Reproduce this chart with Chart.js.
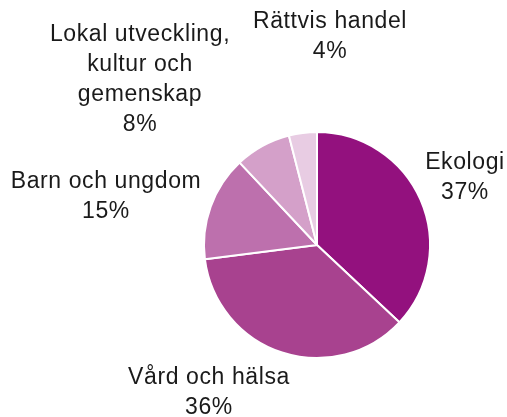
<!DOCTYPE html>
<html>
<head>
<meta charset="utf-8">
<script src="https://cdn.jsdelivr.net/npm/chart.js@4"></script>
<style>
  html, body { margin: 0; padding: 0; background: #fff; }
  #wrap { width: 507px; height: 417px; }
</style>
</head>
<body>
<div id="wrap"><canvas id="pieChart" width="507" height="417"></canvas></div>
<script>
  // data
  const categories = ['Ekologi', 'Vård och hälsa', 'Barn och ungdom', ['Lokal utveckling,', 'kultur och', 'gemenskap'], 'Rättvis handel'];
  const shares = [37, 36, 15, 8, 4];
  const colors = ['#93117E', '#A8428F', '#BD70AD', '#D4A0C9', '#E8CCE3'];

  // label placement relative to pie centre (px)
  const labelOffsets = [[148, -67], [-108, 148], [-211, -48], [-177, -165], [13, -208]];

  const outsideLabels = {
    id: 'outsideLabels',
    afterDatasetsDraw(chart) {
      const ctx = chart.ctx;
      const meta = chart.getDatasetMeta(0);
      const total = shares.reduce((a, b) => a + b, 0);
      ctx.save();
      ctx.font = '23px "Liberation Sans", Arial, sans-serif';
      ctx.letterSpacing = '0.6px';
      ctx.fillStyle = '#1a1a1a';
      ctx.textAlign = 'center';
      ctx.textBaseline = 'middle';
      const lh = 30;
      meta.data.forEach((arc, i) => {
        const name = categories[i];
        const lines = (Array.isArray(name) ? name.slice() : [name]);
        lines.push(Math.round(shares[i] / total * 100) + '%');
        const cx = arc.x + labelOffsets[i][0];
        const cy = arc.y + labelOffsets[i][1];
        const top = cy - (lines.length - 1) * lh / 2;
        lines.forEach((t, j) => ctx.fillText(t, cx, top + j * lh));
      });
      ctx.restore();
    }
  };

  new Chart(document.getElementById('pieChart'), {
    type: 'pie',
    data: {
      labels: categories,
      datasets: [{
        data: shares,
        backgroundColor: colors,
        borderColor: '#ffffff',
        borderWidth: 2
      }]
    },
    options: {
      responsive: false,
      animation: false,
      layout: { padding: { left: 203, right: 76, top: 131, bottom: 58 } },
      plugins: { legend: { display: false }, tooltip: { enabled: false } }
    },
    plugins: [outsideLabels]
  });
</script>
</body>
</html>
